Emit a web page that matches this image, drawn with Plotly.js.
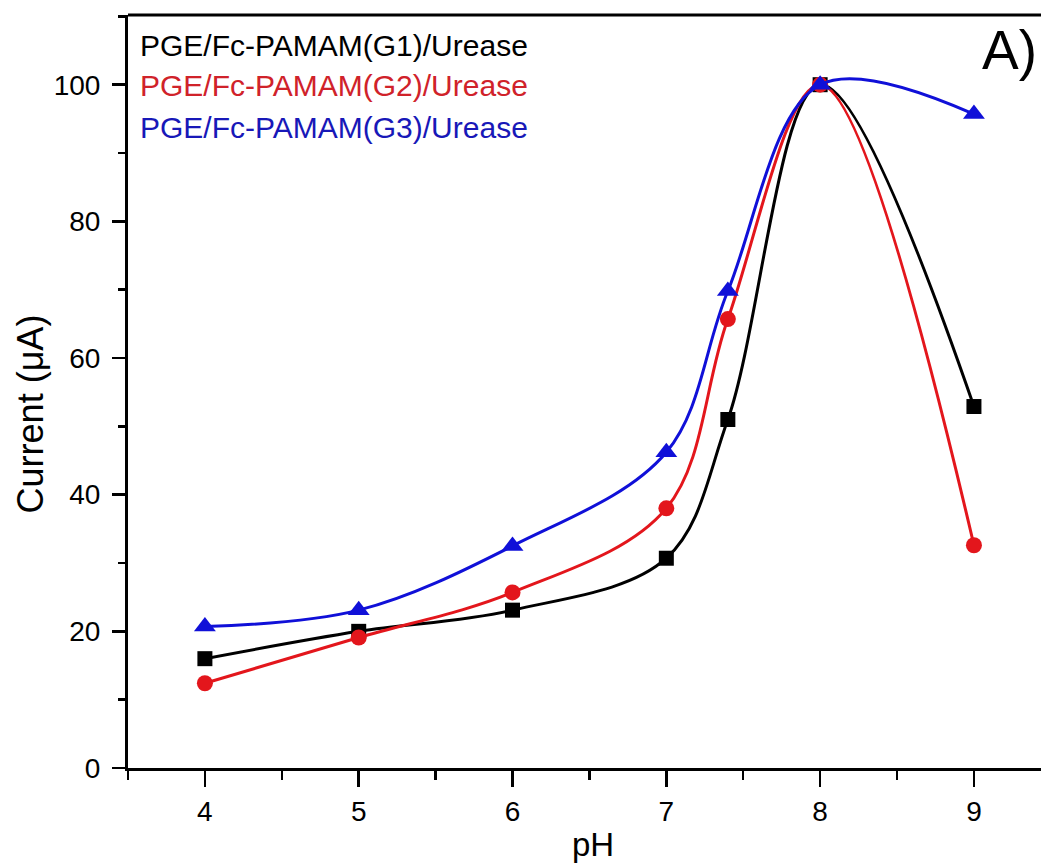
<!DOCTYPE html>
<html>
<head>
<meta charset="utf-8">
<script src="https://cdn.plot.ly/plotly-3.0.1.min.js"></script>
<style>html,body{margin:0;padding:0;background:#fff;overflow:hidden}</style>
</head>
<body>
<div id="chart" style="width:1041px;height:867px"></div>
<script>
const pH = [4, 5, 6, 7, 7.4, 8, 9];
const currentG1 = [16.0, 20.0, 23.1, 30.7, 51.0, 100.0, 52.9];
const currentG2 = [12.4, 19.1, 25.7, 38.0, 65.7, 100.0, 32.6];
const currentG3 = [20.7, 23.1, 32.5, 46.2, 69.8, 100.0, 95.7];
const seriesNames = ["PGE/Fc-PAMAM(G1)/Urease", "PGE/Fc-PAMAM(G2)/Urease", "PGE/Fc-PAMAM(G3)/Urease"];
const xTickVals = [4, 5, 6, 7, 8, 9];
const yTickVals = [0, 20, 40, 60, 80, 100];

const colors = ["#000000", "#e3161c", "#1010d8"];
const textColors = ["#000000", "#d0222a", "#1818b8"];
const symbols = ["square", "circle", "triangle-up"];
const sizes = [15, 16, 19];
const ys = [currentG1, currentG2, currentG3];

const traces = ys.map((y, i) => ({
  x: pH, y: y, name: seriesNames[i], type: "scatter", mode: "lines+markers",
  line: {color: colors[i], width: 3, shape: "spline", smoothing: 1},
  marker: {color: colors[i], symbol: symbols[i], size: sizes[i]},
  showlegend: false, cliponaxis: false
}));

const font = "Liberation Sans, Arial, sans-serif";
const legendY = [0.960, 0.906, 0.851];
const annotations = seriesNames.map((n, i) => ({
  text: n, xref: "paper", yref: "paper", x: 0.011, y: legendY[i],
  xanchor: "left", yanchor: "middle", showarrow: false,
  font: {family: font, size: 30, color: textColors[i]}
}));
annotations.push({
  text: "A)", xref: "paper", yref: "paper", x: 0.933, y: 0.953,
  xanchor: "left", yanchor: "middle", showarrow: false,
  font: {family: font, size: 55, color: "#000"}
});
annotations.push({
  text: "Current (μA)", xref: "paper", yref: "paper", x: -0.107, y: 0.470,
  xanchor: "center", yanchor: "middle", textangle: -90, showarrow: false,
  font: {family: font, size: 36, color: "#000"}
});
annotations.push({
  text: "pH", xref: "paper", yref: "paper", x: 0.509, y: -0.101,
  xanchor: "center", yanchor: "middle", showarrow: false,
  font: {family: font, size: 33, color: "#000"}
});

const layout = {
  width: 1041, height: 867, autosize: false,
  margin: {l: 128, r: 0, t: 15, b: 99},
  paper_bgcolor: "#fff", plot_bgcolor: "#fff",
  font: {family: font, color: "#000"},
  xaxis: {
    range: [3.5, 9.436], tickvals: xTickVals, ticktext: xTickVals.map(String),
    ticks: "outside", ticklen: 16, tickwidth: 2.5, tickcolor: "#000",
    minor: {dtick: 0.5, tick0: 3.5, ticks: "outside", ticklen: 9, tickwidth: 2.5, tickcolor: "#000"},
    showline: true, linewidth: 3, linecolor: "#000", showgrid: false, zeroline: false,
    tickfont: {size: 28, family: font}
  },
  yaxis: {
    range: [0, 110.2], tickvals: yTickVals, ticktext: yTickVals.map(String),
    ticks: "outside", ticklen: 13, tickwidth: 2.5, tickcolor: "#000",
    minor: {dtick: 10, tick0: 0, ticks: "outside", ticklen: 7, tickwidth: 2.5, tickcolor: "#000"},
    showline: true, linewidth: 3, linecolor: "#000", showgrid: false, zeroline: false,
    tickfont: {size: 28, family: font}, ticklabelstandoff: 6
  },
  shapes: [{type: "line", xref: "paper", yref: "paper", x0: 0, x1: 1, y0: 1, y1: 1, line: {color: "#000", width: 3}}],
  annotations: annotations
};

Plotly.newPlot("chart", traces, layout, {displayModeBar: false, staticPlot: true});
</script>
</body>
</html>
